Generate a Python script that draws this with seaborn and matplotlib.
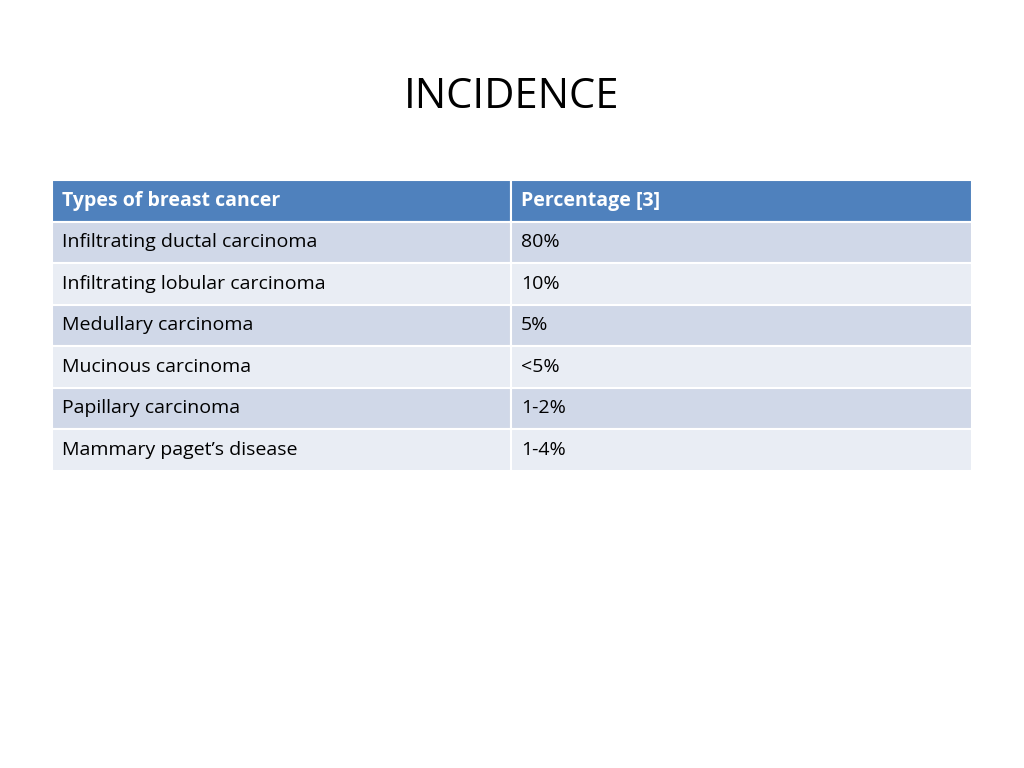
import seaborn as sns
import matplotlib.pyplot as plt
from matplotlib.patches import Rectangle

sns.set_theme(style="white")
plt.rcParams['font.family'] = ['Open Sans', 'DejaVu Sans']

header = ["Types of breast cancer", "Percentage [3]"]
rows = [
    ("Infiltrating ductal carcinoma", "80%"),
    ("Infiltrating lobular carcinoma", "10%"),
    ("Medullary carcinoma", "5%"),
    ("Mucinous carcinoma", "<5%"),
    ("Papillary carcinoma", "1-2%"),
    ("Mammary paget\u2019s disease", "1-4%"),
]

fig = plt.figure(figsize=(10.24, 7.68), dpi=100)
ax = fig.add_axes([0, 0, 1, 1])
ax.set_xlim(0, 1024); ax.set_ylim(768, 0); ax.axis("off")

ax.text(512, 97, "INCIDENCE", ha="center", va="center", fontsize=30, color="black")

x0, xm, x1 = 52, 511, 972
top, rh = 180, 41.5
cols = [(x0, xm), (xm, x1)]
fills = ["#4F81BD"] + ["#D0D8E8" if i % 2 == 0 else "#E9EDF4" for i in range(len(rows))]
for r, (cells, fc) in enumerate(zip([header] + rows, fills)):
    y = top + r * rh
    for (a, b), txt in zip(cols, cells):
        ax.add_patch(Rectangle((a, y), b - a, rh, facecolor=fc, edgecolor="white", linewidth=1.5))
        ax.text(a + 10, y + rh / 2, txt, va="center", ha="left", fontsize=14,
                color="white" if r == 0 else "black", fontweight="bold" if r == 0 else "normal")

plt.savefig("out.png", dpi=100)
